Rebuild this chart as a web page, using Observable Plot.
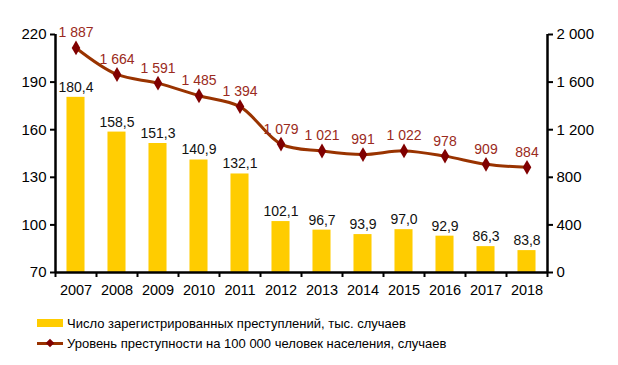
<!DOCTYPE html>
<html>
<head>
<meta charset="utf-8">
<script src="https://cdn.jsdelivr.net/npm/d3@7"></script>
<script src="https://cdn.jsdelivr.net/npm/@observablehq/plot@0.6"></script>
<style>
  body { margin: 0; background: #fff; font-family: "Liberation Sans", Arial, sans-serif; }
  #chart { width: 618px; height: 365px; position: relative; }
  .legend { position: absolute; left: 37px; font-size: 13px; color: #000; }
  .legend .row { display: flex; align-items: center; height: 20px; }
  .legend .sw { width: 26px; margin-right: 4px; position: relative; }
</style>
</head>
<body>
<div id="chart"></div>
<script>
const years = [2007, 2008, 2009, 2010, 2011, 2012, 2013, 2014, 2015, 2016, 2017, 2018];
const crimes = [180.4, 158.5, 151.3, 140.9, 132.1, 102.1, 96.7, 93.9, 97.0, 92.9, 86.3, 83.8];
const rate = [1887, 1664, 1591, 1485, 1394, 1079, 1021, 991, 1022, 978, 909, 884];
const leftTicks = [70, 100, 130, 160, 190, 220];
const rightTicks = [0, 400, 800, 1200, 1600, 2000];
const seriesNames = ["Число зарегистрированных преступлений, тыс. случаев",
                     "Уровень преступности на 100 000 человек населения, случаев"];

const yMin = 70, yMax = 220, rMax = 2000;
const toLeft = v => yMin + v * (yMax - yMin) / rMax;
const fromLeft = y => Math.round((y - yMin) * rMax / (yMax - yMin));

const loc = d3.formatLocale({decimal: ",", thousands: " ", grouping: [3], currency: ["", ""]});
const fmt1 = loc.format(".1f");
const fmtInt = loc.format(",d");

const data = years.map((y, i) => ({year: y, crimes: crimes[i], rate: rate[i], rateY: toLeft(rate[i])}));
const boundaries = d3.range(years[0] - 0.5, years[years.length - 1] + 1, 1);

const barColor = "#FFCC00";
const lineColor = "#993300";
const markColor = "#800000";
const labelColor = "#9A2A20";

const plot = Plot.plot({
  width: 618,
  height: 300,
  marginLeft: 55,
  marginRight: 71,
  marginTop: 34,
  marginBottom: 28,
  style: {fontFamily: "Liberation Sans, Arial, sans-serif", fontSize: "14px", color: "#000"},
  x: {domain: [years[0] - 0.5, years[years.length - 1] + 0.5]},
  y: {domain: [yMin, yMax]},
  marks: [
    Plot.rectY(data, {x1: d => d.year - 0.22, x2: d => d.year + 0.22, y1: yMin, y2: "crimes", fill: barColor}),
    Plot.text(data, {x: "year", y: "crimes", text: d => fmt1(d.crimes), dy: -10, fill: "#111", fontSize: 14}),
    Plot.line(data, {x: "year", y: "rateY", stroke: lineColor, strokeWidth: 3, curve: "catmull-rom"}),
    Plot.dot(data, {x: "year", y: "rateY", symbol: "diamond", r: 4.5, fill: markColor, stroke: null}),
    Plot.text(data, {x: "year", y: "rateY", text: d => fmtInt(d.rate), dy: -15, fill: labelColor, fontSize: 14}),
    Plot.axisY(leftTicks, {anchor: "left", tickSize: 5, tickPadding: 4, strokeWidth: 2, tickFormat: d => String(d), fontSize: 15, label: null}),
    Plot.axisY(rightTicks.map(toLeft), {anchor: "right", tickSize: 5, tickPadding: 4, strokeWidth: 2, tickFormat: v => fmtInt(fromLeft(v)), fontSize: 15, label: null}),
    Plot.axisX(boundaries, {anchor: "bottom", tickSize: 5, strokeWidth: 2, tickFormat: () => "", label: null}),
    Plot.axisX(years, {anchor: "bottom", tickSize: 0, tickPadding: 12, tickFormat: d => String(d), fontSize: 14.5, label: null}),
    Plot.ruleX([years[0] - 0.5, years[years.length - 1] + 0.5], {y1: yMin, y2: yMax, stroke: "#000", strokeWidth: 2.5}),
    Plot.ruleY([yMin], {stroke: "#000", strokeWidth: 2.5})
  ]
});

const chart = document.getElementById("chart");
chart.appendChild(plot);

const legend = document.createElement("div");
legend.className = "legend";
legend.style.top = "313px";
legend.innerHTML = `
  <div class="row"><div class="sw" style="height:8px;background:${barColor}"></div><span>${seriesNames[0]}</span></div>
  <div class="row"><div class="sw" style="height:8px">
     <div style="position:absolute;left:0;right:0;top:2.5px;height:3px;background:${lineColor}"></div>
     <div style="position:absolute;left:10px;top:0.5px;width:6px;height:6px;background:${markColor};transform:rotate(45deg)"></div>
  </div><span>${seriesNames[1]}</span></div>`;
chart.appendChild(legend);
</script>
</body>
</html>
